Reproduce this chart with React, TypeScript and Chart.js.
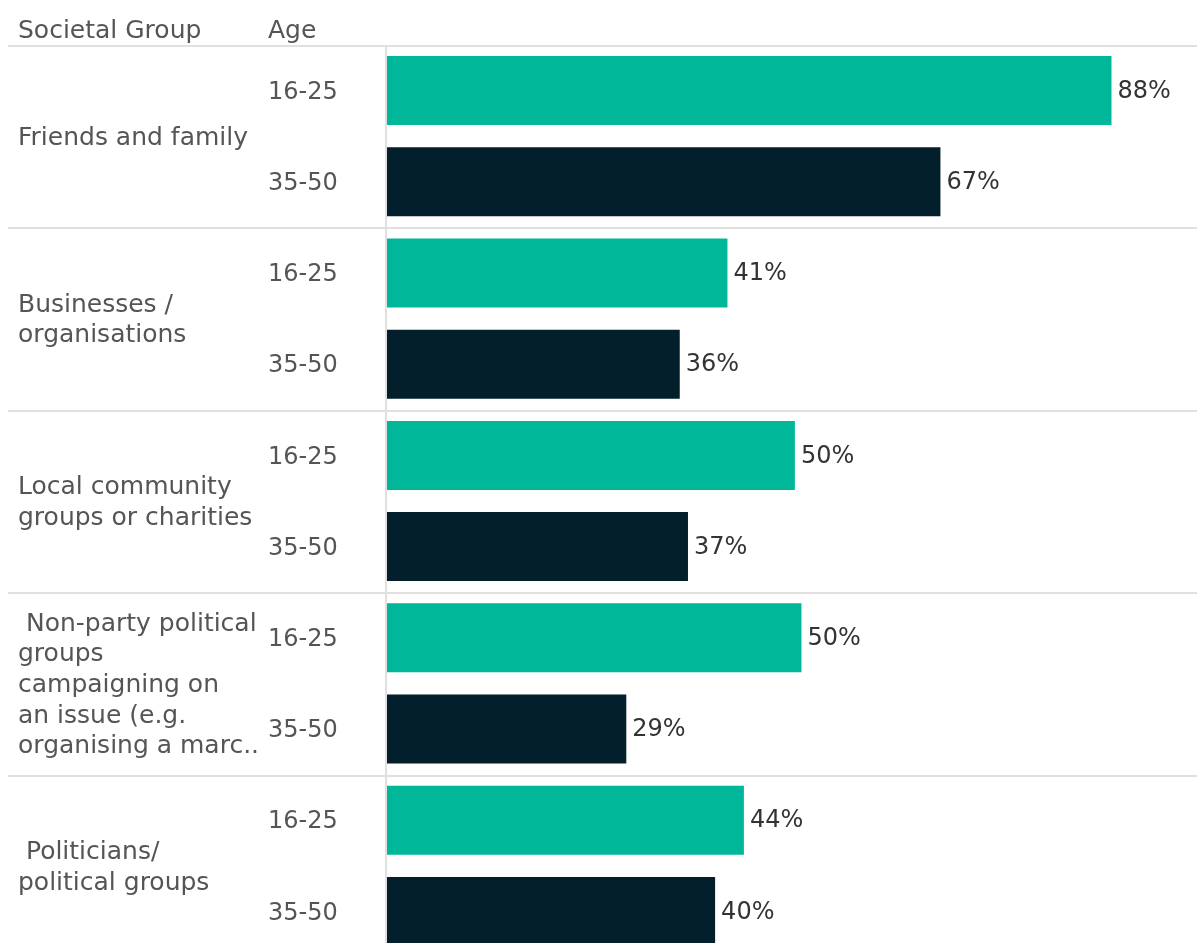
import React, { useEffect, useRef } from "react";
import { Chart, registerables } from "chart.js";

Chart.register(...registerables);

// ---- data ----
const groupHeader = "Societal Group";
const ageHeader = "Age";
const groupLabels: string[][] = [
  ["Friends and family"],
  ["Businesses /", "organisations"],
  ["Local community", "groups or charities"],
  [" Non-party political", "groups", "campaigning on", "an issue (e.g.", "organising a marc.."],
  [" Politicians/", "political groups"],
];
const ageGroups = ["16-25", "35-50"];
const values1625 = [88.1, 41.4, 49.6, 50.4, 43.4];
const values3550 = [67.3, 35.6, 36.6, 29.1, 39.9];
const labels1625 = ["88%", "41%", "50%", "50%", "44%"];
const labels3550 = ["67%", "36%", "37%", "29%", "40%"];

const COLOR_YOUNG = "#00b899";
const COLOR_OLD = "#021f2b";
const FONT = "'DejaVu Sans', sans-serif";

export default function App() {
  const ref = useRef<HTMLCanvasElement | null>(null);

  useEffect(() => {
    if (!ref.current) return;
    const rowLabels: string[] = [];
    const data: number[] = [];
    const colors: string[] = [];
    const valueLabels: string[] = [];
    groupLabels.forEach((_, g) => {
      rowLabels.push(`${g}-${ageGroups[0]}`);
      data.push(values1625[g]);
      colors.push(COLOR_YOUNG);
      valueLabels.push(labels1625[g]);
      rowLabels.push(`${g}-${ageGroups[1]}`);
      data.push(values3550[g]);
      colors.push(COLOR_OLD);
      valueLabels.push(labels3550[g]);
    });

    const decor = {
      id: "decor",
      beforeDatasetsDraw(chart: any) {
        const { ctx, chartArea, scales } = chart;
        const y = scales.y;
        const band = y.getPixelForValue(1) - y.getPixelForValue(0);
        ctx.save();
        ctx.fillStyle = "#e0e0e0";
        for (let g = 0; g < groupLabels.length; g++) {
          const top = y.getPixelForValue(g * 2) - band / 2;
          ctx.fillRect(8, Math.round(top), chart.width - 8, 2);
        }
        ctx.fillRect(chartArea.left - 2, chartArea.top, 2, chartArea.bottom - chartArea.top);
        ctx.restore();
      },
      afterDatasetsDraw(chart: any) {
        const { ctx, scales } = chart;
        const y = scales.y;
        const meta = chart.getDatasetMeta(0);
        ctx.save();
        ctx.textBaseline = "middle";
        ctx.textAlign = "left";
        // headers
        ctx.fillStyle = "#555555";
        ctx.font = `25px ${FONT}`;
        ctx.fillText(groupHeader, 18, 31);
        ctx.fillText(ageHeader, 268, 31);
        // group labels
        const lh = 30.7;
        groupLabels.forEach((lines, g) => {
          const c = (y.getPixelForValue(g * 2) + y.getPixelForValue(g * 2 + 1)) / 2 + 2;
          const start = c - ((lines.length - 1) * lh) / 2;
          ctx.font = `25px ${FONT}`;
          ctx.fillStyle = "#555555";
          lines.forEach((ln, i) => ctx.fillText(ln, 18, start + i * lh));
          ctx.font = `24px ${FONT}`;
          ageGroups.forEach((a, k) => {
            ctx.fillText(a, 268, y.getPixelForValue(g * 2 + k) + 2);
          });
        });
        // value labels
        ctx.font = `24px ${FONT}`;
        ctx.fillStyle = "#333333";
        meta.data.forEach((bar: any, i: number) => {
          ctx.fillText(valueLabels[i], bar.x + 6, bar.y + 1);
        });
        ctx.restore();
      },
    };

    const chart = new Chart(ref.current, {
      type: "bar",
      data: {
        labels: rowLabels,
        datasets: [
          {
            data,
            backgroundColor: colors,
            borderWidth: 0,
            barPercentage: 0.757,
            categoryPercentage: 1,
          },
        ],
      },
      options: {
        indexAxis: "y",
        animation: false,
        responsive: true,
        maintainAspectRatio: false,
        layout: { padding: { left: 387, top: 45, right: 0, bottom: 0 } },
        plugins: { legend: { display: false }, tooltip: { enabled: false } },
        scales: {
          x: { min: 0, max: 98.5, display: false },
          y: { display: false, offset: true },
        },
      },
      plugins: [decor],
    });
    return () => chart.destroy();
  }, []);

  return (
    <div style={{ position: "absolute", left: 0, top: 0, width: 1197, height: 943, overflow: "hidden", background: "#fff" }}>
      <div style={{ width: 1197, height: 957, position: "relative" }}>
        <canvas ref={ref} />
      </div>
    </div>
  );
}
